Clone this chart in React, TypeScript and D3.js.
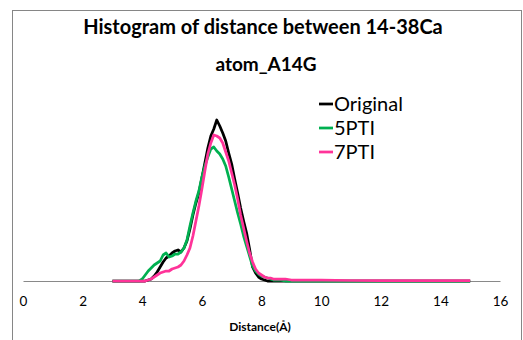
import React, { useEffect, useRef } from 'react';
import * as d3 from 'd3';

// distance bins (Å)
const distance = [
  3.0, 3.5, 3.8, 3.9, 4.0, 4.1, 4.2, 4.3, 4.4, 4.5, 4.6, 4.7, 4.8, 4.9,
  5.0, 5.1, 5.2, 5.3, 5.4, 5.5, 5.6, 5.7, 5.8, 5.9,
  6.0, 6.1, 6.2, 6.3, 6.4, 6.5, 6.6, 6.7, 6.8, 6.9,
  7.0, 7.1, 7.2, 7.3, 7.4, 7.5, 7.6, 7.7, 7.8, 7.9,
  8.0, 8.1, 8.2, 8.3, 8.4, 8.6, 8.8, 9.0, 9.5, 10, 11, 12, 13, 14, 15,
];

const original = [
  0, 0, 0, 0, 0, 0, 0.001, 0.002, 0.005, 0.009, 0.014, 0.019, 0.023, 0.025,
  0.028, 0.030, 0.031, 0.029, 0.033, 0.040, 0.052, 0.066, 0.078, 0.088,
  0.103, 0.118, 0.133, 0.145, 0.152, 0.161, 0.155, 0.148, 0.140, 0.128,
  0.117, 0.102, 0.088, 0.073, 0.060, 0.048, 0.032, 0.014, 0.008, 0.004,
  0.002, 0.001, 0, 0, 0, 0, 0, 0, 0, 0, 0, 0, 0, 0, 0,
];

const pti5 = [
  0, 0, 0, 0, 0.002, 0.006, 0.010, 0.013, 0.016, 0.018, 0.020, 0.026, 0.028, 0.024,
  0.025, 0.027, 0.027, 0.029, 0.033, 0.041, 0.055, 0.068, 0.080, 0.090,
  0.104, 0.115, 0.124, 0.132, 0.134, 0.130, 0.127, 0.122, 0.115, 0.104,
  0.092, 0.080, 0.068, 0.057, 0.045, 0.035, 0.025, 0.015, 0.010, 0.007,
  0.005, 0.004, 0.003, 0.002, 0.001, 0.001, 0, 0, 0, 0, 0, 0, 0, 0, 0,
];

const pti7 = [
  0, 0, 0, 0, 0, 0, 0.001, 0.002, 0.004, 0.006, 0.008, 0.009, 0.010, 0.010,
  0.012, 0.013, 0.014, 0.016, 0.020, 0.026, 0.033, 0.045, 0.060, 0.075,
  0.092, 0.110, 0.127, 0.138, 0.146, 0.145, 0.143, 0.138, 0.129, 0.120,
  0.108, 0.096, 0.082, 0.066, 0.053, 0.040, 0.028, 0.019, 0.012, 0.008,
  0.006, 0.004, 0.003, 0.003, 0.002, 0.002, 0.002, 0.001, 0.001, 0.001, 0.0005, 0.0005, 0.0005, 0.0005, 0.0005,
];

const seriesNames = ['Original', '5PTI', '7PTI'];
const seriesColors = ['#000000', '#00b050', '#ff3399'];
const xTicks = [0, 2, 4, 6, 8, 10, 12, 14, 16];

const App = () => {
  const svgRef = useRef<SVGSVGElement>(null);

  useEffect(() => {
    const svg = d3.select(svgRef.current);
    svg.selectAll('*').remove();

    const font = 'Lato, "Noto Sans", sans-serif';

    // chart border
    svg.append('rect')
      .attr('x', 12.5).attr('y', 10.5)
      .attr('width', 509).attr('height', 340)
      .attr('fill', 'white')
      .attr('stroke', '#868686');

    const x = d3.scaleLinear().domain([0, 16]).range([23, 500]);
    const y = d3.scaleLinear().domain([0, 0.2]).range([281, 81]);

    // title
    svg.append('text')
      .attr('x', 263).attr('y', 34)
      .attr('text-anchor', 'middle')
      .style('font-family', font).style('font-weight', 'bold').style('font-size', '20px')
      .text('Histogram of distance between 14-38Ca');
    svg.append('text')
      .attr('x', 266).attr('y', 71)
      .attr('text-anchor', 'middle')
      .style('font-family', font).style('font-weight', 'bold').style('font-size', '19px')
      .text('atom_A14G');

    // x axis (line + labels, no tick marks)
    const axis = svg.append('g')
      .attr('transform', `translate(0,${y(0)})`)
      .call(d3.axisBottom(x).tickValues(xTicks).tickSize(0).tickPadding(15));
    axis.select('.domain').attr('stroke', '#898989').attr('stroke-width', 1.2);
    axis.selectAll('text')
      .style('font-family', font).style('font-size', '13.5px').attr('fill', '#000');

    svg.append('text')
      .attr('x', 260).attr('y', 331)
      .attr('text-anchor', 'middle')
      .style('font-family', font).style('font-weight', 'bold').style('font-size', '12px')
      .text('Distance(Å)');

    const allSeries = [original, pti5, pti7];
    const line = d3.line<number>()
      .x((d, i) => x(distance[i]))
      .y(d => y(d));

    allSeries.forEach((s, k) => {
      svg.append('path')
        .datum(s)
        .attr('fill', 'none')
        .attr('stroke', seriesColors[k])
        .attr('stroke-width', 2.75)
        .attr('stroke-linejoin', 'round')
        .attr('d', line);
    });

    // legend
    const legend = svg.selectAll('.legend')
      .data(seriesNames)
      .enter().append('g')
      .attr('class', 'legend')
      .attr('transform', (d, i) => `translate(319,${104 + i * 24})`);
    legend.append('line')
      .attr('x1', 0).attr('x2', 14)
      .attr('stroke', (d, i) => seriesColors[i])
      .attr('stroke-width', 2.75);
    legend.append('text')
      .attr('x', 15).attr('dy', '0.35em')
      .style('font-family', font).style('font-size', '20px')
      .text(d => d);
  }, []);

  return (
    <div style={{ position: 'absolute', left: 0, top: 0 }}>
      <svg ref={svgRef} width={523} height={340} style={{ display: 'block' }}></svg>
    </div>
  );
};

export default App;
